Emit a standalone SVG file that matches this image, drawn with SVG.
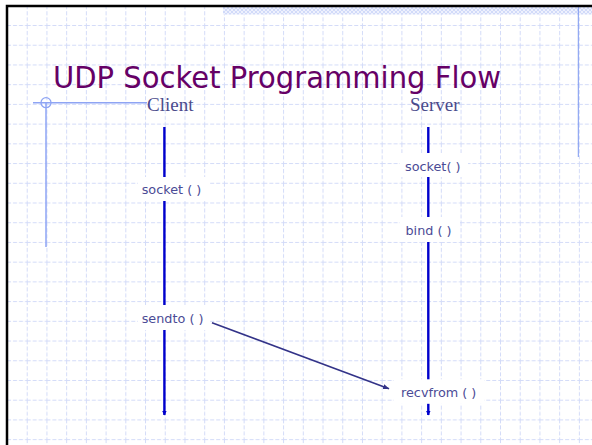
<svg xmlns="http://www.w3.org/2000/svg" width="592" height="445" viewBox="0 0 592 445">
<defs>
<pattern id="grid" patternUnits="userSpaceOnUse" x="7" y="5.3" width="19.72" height="19.72">
<path d="M0 0.5H19.72M0.5 0V19.72" fill="none" stroke="#d3dbf8" stroke-width="1" stroke-dasharray="4 2"/>
</pattern>
<pattern id="hatch" patternUnits="userSpaceOnUse" width="4" height="4">
<rect width="4" height="4" fill="#eef1fd"/>
<path d="M0 0L4 4M4 0L0 4" stroke="#c9d4f7" stroke-width="0.8"/>
</pattern>
<marker id="lifeHead" markerWidth="6" markerHeight="6" refX="4" refY="3" orient="auto" markerUnits="userSpaceOnUse">
<path d="M0 0.8L4.5 3L0 5.2Z" fill="#0000cc"/>
</marker>
<marker id="msgHead" markerWidth="8" markerHeight="8" refX="6" refY="4" orient="auto" markerUnits="userSpaceOnUse">
<path d="M0 1.5L6.5 4L0 6.5Z" fill="#333388"/>
</marker>
</defs>
<style>
.deco{stroke:#8ea4f4;fill:none}
.life{stroke:#0000cc;stroke-width:2.4;fill:none}
.msg{stroke:#333388;stroke-width:1.6;fill:none}
.box{fill:#ffffff}
.lbl{font-family:"DejaVu Sans",Verdana,sans-serif;font-size:12.8px;fill:#4b4b96}
.head{font-family:"Liberation Serif","Times New Roman",serif;font-size:19px;fill:#4b4b8c}
.title{font-family:"DejaVu Sans",Tahoma,sans-serif;font-size:30px;fill:#660066}
</style>
<rect x="0" y="0" width="592" height="445" fill="#ffffff"/>
<rect x="7" y="6" width="585" height="439" fill="url(#grid)"/>
<rect x="223" y="7" width="369" height="7.5" fill="url(#hatch)"/>
<line x1="578.3" y1="7" x2="578.3" y2="157" stroke="#7b96f0" stroke-width="1"/>
<path d="M7 445V6H592" fill="none" stroke="#000000" stroke-width="2.5"/>
<g id="decoration">
<line class="deco" x1="33" y1="102.7" x2="147" y2="102.7" stroke-width="1.5"/>
<circle class="deco" cx="46" cy="102.7" r="5" stroke-width="1.3"/>
<line class="deco" x1="46" y1="102.7" x2="46" y2="247" stroke-width="1.5"/>
</g>
<g id="title">
<text class="title" x="53" y="88.3" textLength="448" lengthAdjust="spacingAndGlyphs">UDP Socket Programming Flow</text>
</g>
<g id="connectors">
<line class="life" x1="164.4" y1="127" x2="164.4" y2="415" marker-end="url(#lifeHead)"/>
<line class="life" x1="428.3" y1="127" x2="428.3" y2="415" marker-end="url(#lifeHead)"/>
<line class="msg" x1="212" y1="322.7" x2="389" y2="388.8" marker-end="url(#msgHead)"/>
</g>
<g id="client">
<text class="head" x="147" y="110.7">Client</text>
</g>
<g id="server">
<text class="head" x="410" y="110.7">Server</text>
</g>
<g id="client-socket">
<rect class="box" x="138" y="177" width="72" height="24"/>
<text class="lbl" x="141.7" y="194.3">socket ( )</text>
</g>
<g id="client-sendto">
<rect class="box" x="138" y="305" width="72" height="25"/>
<text class="lbl" x="141.7" y="323.3">sendto ( )</text>
</g>
<g id="server-socket">
<rect class="box" x="400" y="153" width="68" height="24"/>
<text class="lbl" x="405" y="170.7">socket( )</text>
</g>
<g id="server-bind">
<rect class="box" x="400" y="217" width="60" height="25"/>
<text class="lbl" x="405.5" y="235">bind ( )</text>
</g>
<g id="server-recvfrom">
<rect class="box" x="394" y="379.3" width="90" height="24.5"/>
<text class="lbl" x="401" y="396.7">recvfrom ( )</text>
</g>
</svg>
